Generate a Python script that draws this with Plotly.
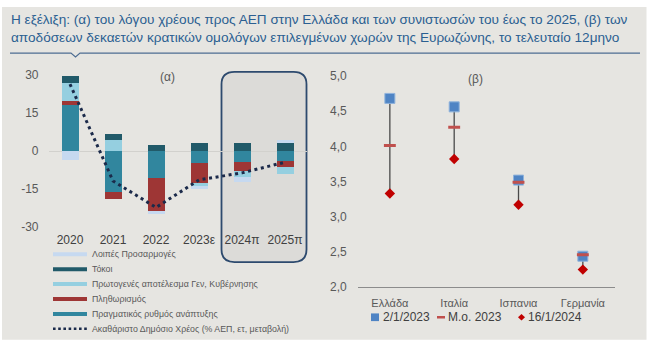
import plotly.graph_objects as go

# ---------------- data ----------------
years = ["2020", "2021", "2022", "2023ε", "2024π", "2025π"]
growth = [18.5, -16.0, -10.4, -4.4, -4.2, -3.8]
inflation = [1.5, -2.9, -13.3, -8.0, -3.4, -2.5]
primary = [6.9, 4.6, 0.0, -1.4, -2.5, -2.8]
interest = [2.9, 2.4, 2.5, 3.5, 3.3, 3.3]
other = [-3.4, 0.0, -1.0, -1.2, -2.1, 1.4]
debt_change = [26.5, -11.8, -22.3, -11.4, -8.6, -4.4]
left_ticks = [30, 15, 0, -15, -30]
left_ticktext = ["30", "15", "0", "-15", "-30"]

countries = ["Ελλάδα", "Ιταλία", "Ισπανια", "Γερμανία"]
yield_jan2023 = [4.68, 4.56, 3.52, 2.44]
yield_avg2023 = [4.01, 4.27, 3.49, 2.46]
yield_jan2024 = [3.33, 3.82, 3.17, 2.25]
right_ticks = [2.0, 2.5, 3.0, 3.5, 4.0, 4.5, 5.0]

title_line1 = "Η εξέλιξη: (α) του λόγου χρέους προς ΑΕΠ στην Ελλάδα και των συνιστωσών του έως το 2025, (β) των"
title_line2 = "αποδόσεων δεκαετών κρατικών ομολόγων επιλεγμένων χωρών της Ευρωζώνης, το τελευταίο 12μηνο"

# ---------------- helpers ----------------
W, H = 652, 355
def X(p):
    return p / W
def Y(p):
    return 1 - p / H

FONT = "Liberation Sans, Arial, sans-serif"
GRAY = "#595959"
BG = "#e6e5e1"

C_GROWTH = "#31869e"
C_INFL = "#9e3635"
C_PRIM = "#95cfe0"
C_INT = "#215a69"
C_OTHER = "#c6d9f0"
C_LINE = "#1b2a4a"

fig = go.Figure()

series = [
    ("Πραγματικός ρυθμός ανάπτυξης", growth, C_GROWTH),
    ("Πληθωρισμός", inflation, C_INFL),
    ("Πρωτογενές αποτέλεσμα Γεν, Κυβέρνησης", primary, C_PRIM),
    ("Τόκοι", interest, C_INT),
    ("Λοιπές Προσαρμογές", other, C_OTHER),
]
for name, vals, col in series:
    fig.add_trace(go.Bar(x=years, y=vals, name=name, marker=dict(color=col, line=dict(width=0)),
                         width=0.4, showlegend=False, xaxis="x", yaxis="y"))

fig.add_trace(go.Scatter(x=years, y=debt_change, mode="lines",
                         name="Ακαθάριστο Δημόσιο Χρέος (% ΑΕΠ, ετ, μεταβολή)",
                         line=dict(color=C_LINE, width=3, dash="3px,3.6px"),
                         showlegend=False, xaxis="x", yaxis="y"))

# right chart: connectors
cx, cy = [], []
for c, a, b in zip(countries, yield_jan2023, yield_jan2024):
    cx += [c, c, None]
    cy += [max(a, b), min(a, b), None]
fig.add_trace(go.Scatter(x=cx, y=cy, mode="lines", line=dict(color="#4a4a4a", width=1.3),
                         showlegend=False, hoverinfo="skip", xaxis="x2", yaxis="y2"))
fig.add_trace(go.Scatter(x=countries, y=yield_jan2023, mode="markers", name="2/1/2023",
                         marker=dict(symbol="square", size=10, color="#4f84c4",
                                     line=dict(color="#8fb3dc", width=1)),
                         showlegend=False, xaxis="x2", yaxis="y2"))
fig.add_trace(go.Scatter(x=countries, y=yield_avg2023, mode="markers", name="Μ.ο. 2023",
                         marker=dict(symbol="line-ew", size=8.5, color="#c0504d",
                                     line=dict(color="#c0504d", width=3)),
                         showlegend=False, xaxis="x2", yaxis="y2"))
fig.add_trace(go.Scatter(x=countries, y=yield_jan2024, mode="markers", name="16/1/2024",
                         marker=dict(symbol="diamond", size=8, color="#c00000",
                                     line=dict(color="#c00000", width=0)),
                         showlegend=False, xaxis="x2", yaxis="y2"))

# ---------------- layout ----------------
shapes = []
# gray background card
shapes.append(dict(type="rect", xref="paper", yref="paper", x0=X(2), x1=X(646.5), y0=Y(346.5), y1=Y(0),
                   fillcolor=BG, line=dict(width=0), layer="below"))
# title rule with notch
shapes.append(dict(type="path", xref="paper", yref="paper",
                   path=f"M {X(10)},{Y(48)} L {X(71)},{Y(48)} L {X(75.5)},{Y(52)} L {X(80)},{Y(48)} L {X(640)},{Y(48)}",
                   line=dict(color="#4e6d92", width=1.2), layer="below"))

# rounded highlight box
def rrect(x0, y0, x1, y1, r):
    return (f"M {X(x0+r)},{Y(y0)} L {X(x1-r)},{Y(y0)} Q {X(x1)},{Y(y0)} {X(x1)},{Y(y0+r)} "
            f"L {X(x1)},{Y(y1-r)} Q {X(x1)},{Y(y1)} {X(x1-r)},{Y(y1)} "
            f"L {X(x0+r)},{Y(y1)} Q {X(x0)},{Y(y1)} {X(x0)},{Y(y1-r)} "
            f"L {X(x0)},{Y(y0+r)} Q {X(x0)},{Y(y0)} {X(x0+r)},{Y(y0)} Z")
shapes.append(dict(type="path", xref="paper", yref="paper", path=rrect(221.5, 67.5, 306.5, 265.5, 13),
                   fillcolor="#dcdbd8", line=dict(color="#2d4a6e", width=1.8), layer="below"))

def note(text, x, y, size, color, xanchor="left"):
    return dict(text=text, xref="paper", yref="paper", x=X(x), y=Y(y), xanchor=xanchor, yanchor="middle",
                showarrow=False, font=dict(family=FONT, size=size, color=color))

annotations = [
    note(title_line1, 9, 12.5, 13.6, "#2b5f91"),
    note(title_line2, 9, 31.5, 13.6, "#2b5f91"),
    note("(α)", 167, 73, 12, GRAY, "center"),
    note("(β)", 475, 75, 12, GRAY, "center"),
]

# left legend (manual)
legend_items = [
    ("Λοιπές Προσαρμογές", C_OTHER, "solid"),
    ("Τόκοι", C_INT, "solid"),
    ("Πρωτογενές αποτέλεσμα Γεν, Κυβέρνησης", C_PRIM, "solid"),
    ("Πληθωρισμός", C_INFL, "solid"),
    ("Πραγματικός ρυθμός ανάπτυξης", C_GROWTH, "solid"),
    ("Ακαθάριστο Δημόσιο Χρέος (% ΑΕΠ, ετ, μεταβολή)", C_LINE, "dot"),
]
ly = [257.5, 273, 288.5, 304, 319.5, 335]
for (name, col, kind), yy in zip(legend_items, ly):
    if kind == "solid":
        shapes.append(dict(type="line", xref="paper", yref="paper", x0=X(53), x1=X(87), y0=Y(yy), y1=Y(yy),
                           line=dict(color=col, width=4)))
    else:
        shapes.append(dict(type="line", xref="paper", yref="paper", x0=X(53), x1=X(88), y0=Y(yy), y1=Y(yy),
                           line=dict(color=col, width=2.6, dash="2.6px,2.6px")))
    annotations.append(note(name, 90, yy, 8.8, GRAY))

# right legend (manual)
ry = 323
shapes.append(dict(type="rect", xref="paper", yref="paper", x0=X(371), x1=X(379), y0=Y(ry+4), y1=Y(ry-4),
                   fillcolor="#4f84c4", line=dict(width=0)))
annotations.append(note("2/1/2023", 381, ry, 12, "#404040"))
shapes.append(dict(type="line", xref="paper", yref="paper", x0=X(437), x1=X(445), y0=Y(ry), y1=Y(ry),
                   line=dict(color="#c0504d", width=2.5)))
annotations.append(note("Μ.ο. 2023", 446, ry, 12, "#404040"))
shapes.append(dict(type="path", xref="paper", yref="paper",
                   path=f"M {X(521.5)},{Y(ry-3.5)} L {X(525)},{Y(ry)} L {X(521.5)},{Y(ry+3.5)} L {X(518)},{Y(ry)} Z",
                   fillcolor="#c00000", line=dict(width=0)))
annotations.append(note("16/1/2024", 526, ry, 12, "#404040"))

# left axes: 30 at y=71px, -30 at y=229px
pu = (229 - 71) / 60.0
fig.update_layout(
    width=W, height=H,
    margin=dict(l=0, r=0, t=0, b=0),
    paper_bgcolor="white",
    plot_bgcolor="rgba(0,0,0,0)",
    separators=",.",
    barmode="relative",
    bargap=0,
    showlegend=False,
    font=dict(family=FONT, color=GRAY, size=12),
    xaxis=dict(domain=[X(48.5), X(306.5)], anchor="y", type="category", range=[-0.5, 5.5],
               showgrid=False, showline=False, zeroline=False, ticks="",
               tickfont=dict(size=12, color="#404040"), ticklabelstandoff=2),
    yaxis=dict(domain=[Y(229 + pu), Y(71 - pu)], anchor="x", range=[-31, 31],
               tickvals=left_ticks, ticktext=left_ticktext, showgrid=False, showline=False,
               zeroline=True, zerolinecolor="#d2d1cd", zerolinewidth=1, ticks="",
               tickfont=dict(size=12, color=GRAY), ticklabelstandoff=9),
    xaxis2=dict(domain=[X(357.7), X(615)], anchor="y2", type="category", range=[-0.5, 3.5],
                showgrid=False, showline=True, linecolor="#8c8c8c", linewidth=1, zeroline=False, ticks="",
                tickfont=dict(size=11, color=GRAY), ticklabelstandoff=6),
    yaxis2=dict(domain=[Y(291.7), Y(71.7)], anchor="x2", range=[2.0, 5.0],
                tickvals=right_ticks, tickformat=".1f", showgrid=False, showline=False, zeroline=False,
                ticks="", tickfont=dict(size=12, color=GRAY), ticklabelstandoff=10),
    shapes=shapes,
    annotations=annotations,
)

fig.write_html("out.html", config={"displayModeBar": False},
               post_script="document.body.style.margin='0';document.body.style.overflow='hidden';")
